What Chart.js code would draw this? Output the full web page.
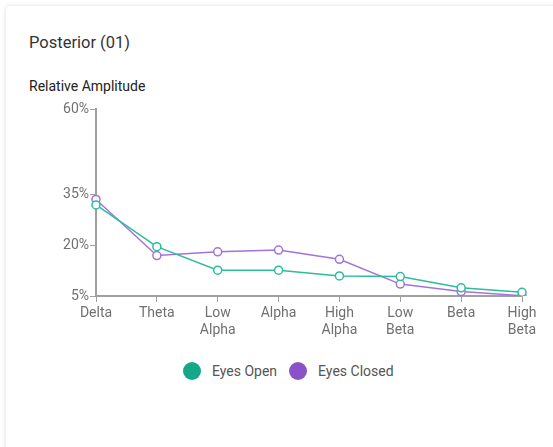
<!DOCTYPE html>
<html>
<head>
<meta charset="utf-8">
<script src="https://cdn.jsdelivr.net/npm/chart.js@4"></script>
<style>
  html, body { margin: 0; padding: 0; background: #fff; width: 553px; height: 447px; overflow: hidden; font-family: Roboto, sans-serif; }
  #card { position: absolute; left: 6px; top: 6px; width: 580px; height: 480px; border-radius: 4px; background: #fff;
          box-shadow: 0 0 4px rgba(0,0,0,0.15); }
  #title { position: absolute; left: 29px; top: 33px; font-size: 16.5px; color: #333; }
  #ytitle { position: absolute; left: 29px; top: 78px; font-size: 14px; color: #222; }
  #wrap { position: absolute; left: 0; top: 0; width: 553px; height: 345px; }
  #legend { position: absolute; left: 183px; top: 362px; display: flex; align-items: center; font-size: 14px; color: #555; }
  #legend .dot { width: 18px; height: 18px; border-radius: 50%; margin-right: 11px; }
  #legend .txt { margin-right: 12px; }
</style>
</head>
<body>
<div id="card"></div>
<div id="title">Posterior (01)</div>
<div id="ytitle">Relative Amplitude</div>
<div id="wrap"><canvas id="c"></canvas></div>
<div id="legend"></div>
<script>
const categories = [['Delta'], ['Theta'], ['Low', 'Alpha'], ['Alpha'], ['High', 'Alpha'], ['Low', 'Beta'], ['Beta'], ['High', 'Beta']];
const eyesOpen = [31.8, 19.5, 12.6, 12.6, 10.9, 10.7, 7.4, 6.1];
const eyesClosed = [33.4, 16.9, 18.0, 18.5, 15.8, 8.5, 6.3, 5.1];
const yTicks = [5, 20, 35, 60];
const seriesNames = ['Eyes Open', 'Eyes Closed'];
const colors = ['#14a888', '#8a52c8'];
const lineColors = ['#2dbd9b', '#a373db'];

const legend = document.getElementById('legend');
seriesNames.forEach((n, i) => {
  const d = document.createElement('span'); d.className = 'dot'; d.style.background = colors[i];
  const t = document.createElement('span'); t.className = 'txt'; t.textContent = n;
  legend.appendChild(d); legend.appendChild(t);
});

new Chart(document.getElementById('c'), {
  type: 'line',
  data: {
    labels: categories,
    datasets: [eyesOpen, eyesClosed].map((d, i) => ({
      label: seriesNames[i],
      data: d,
      borderColor: lineColors[i],
      borderWidth: 1.5,
      pointBackgroundColor: '#fff',
      pointBorderColor: lineColors[i],
      pointBorderWidth: 1.5,
      pointRadius: 4,
      tension: 0,
      fill: false
    }))
  },
  options: {
    responsive: true,
    maintainAspectRatio: false,
    animation: false,
    layout: { padding: { left: 0, right: 31, top: 109, bottom: 0 } },
    plugins: {
      legend: { display: false },
      tooltip: { enabled: false }
    },
    scales: {
      x: {
        offset: false,
        afterFit: (axis) => { axis.height = 49; },
        grid: { display: true, drawOnChartArea: false, drawTicks: true, tickLength: 6, color: '#a0a0a0' },
        border: { color: '#a0a0a0', width: 2 },
        ticks: { color: '#707070', font: { family: 'Roboto', size: 14 }, padding: 3, maxRotation: 0, autoSkip: false }
      },
      y: {
        min: 5,
        max: 60,
        afterBuildTicks: (axis) => { axis.ticks = yTicks.map(v => ({ value: v })); },
        afterFit: (axis) => { axis.width = 96; },
        grid: { display: true, drawOnChartArea: false, drawTicks: true, tickLength: 6, color: '#a0a0a0' },
        border: { color: '#a0a0a0', width: 2 },
        ticks: { color: '#707070', font: { family: 'Roboto', size: 14 }, padding: 1, callback: v => v + '%' }
      }
    }
  }
});
</script>
</body>
</html>
